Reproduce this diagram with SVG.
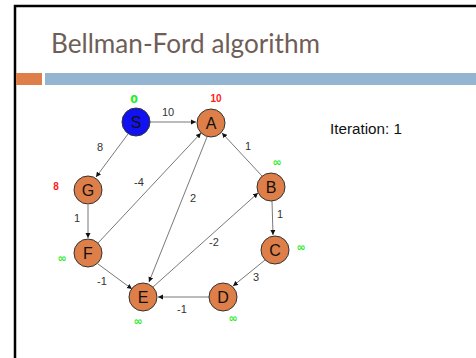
<svg xmlns="http://www.w3.org/2000/svg" width="476" height="358" viewBox="0 0 476 358">
<defs>
<marker id="ah" markerWidth="6" markerHeight="6" refX="5" refY="3" orient="auto" markerUnits="userSpaceOnUse">
<path d="M0,0.5 L5,3 L0,5.5 Z" fill="#111"/>
</marker>
<style>
.node{fill:#DE7E48;stroke:#333;stroke-width:1}
.src{fill:#1212F0;stroke:#333;stroke-width:1}
.nl{font-family:"Liberation Sans",Arial,sans-serif;font-size:16px;fill:#111;text-anchor:middle;dominant-baseline:central}
.el{font-family:"Liberation Sans",Arial,sans-serif;font-size:11px;fill:#333;text-anchor:middle;dominant-baseline:central}
.dr{font-family:"Liberation Sans",Arial,sans-serif;font-size:10px;font-weight:bold;fill:#FF2020;text-anchor:middle;dominant-baseline:central}
.dg{font-family:"DejaVu Sans",sans-serif;font-size:11px;font-weight:bold;fill:#22EE22;text-anchor:middle;dominant-baseline:central}
.e{stroke:#555;stroke-width:0.8;fill:none;marker-end:url(#ah)}
</style>
</defs>
<rect width="476" height="358" fill="#fff"/>
<path d="M15,358 V6 H476" fill="none" stroke="#000" stroke-width="2.5"/>
<rect x="16" y="73" width="26" height="12" fill="#DE7E48"/>
<rect x="45" y="73" width="431" height="12" fill="#94B5D2"/>
<text x="51" y="53" font-family="Lato,'Open Sans',sans-serif" font-size="26" fill="#6E5E57" textLength="269" lengthAdjust="spacingAndGlyphs">Bellman-Ford algorithm</text>
<text x="330" y="134" font-family="'Liberation Sans',Arial,sans-serif" font-size="14" fill="#111" textLength="72" lengthAdjust="spacingAndGlyphs">Iteration: 1</text>
<g id="edges">
<line class="e" x1="150" y1="122" x2="196" y2="122"/>
<line class="e" x1="128" y1="134" x2="96" y2="177"/>
<line class="e" x1="88" y1="205" x2="88" y2="238"/>
<line class="e" x1="98" y1="243" x2="201" y2="133"/>
<line class="e" x1="207" y1="137" x2="149" y2="282"/>
<line class="e" x1="262" y1="176" x2="222" y2="133"/>
<line class="e" x1="272" y1="201" x2="273" y2="235"/>
<line class="e" x1="265" y1="260" x2="233" y2="286"/>
<line class="e" x1="209" y1="297" x2="158" y2="297"/>
<line class="e" x1="153" y1="287" x2="258" y2="193"/>
<line class="e" x1="98" y1="264" x2="132" y2="289"/>
<text class="el" x="168" y="112">10</text>
<text class="el" x="100" y="147">8</text>
<text class="el" x="139" y="182">-4</text>
<text class="el" x="193" y="198">2</text>
<text class="el" x="248" y="146">1</text>
<text class="el" x="280" y="214">1</text>
<text class="el" x="77" y="218">1</text>
<text class="el" x="214" y="242">-2</text>
<text class="el" x="102" y="281">-1</text>
<text class="el" x="182" y="309">-1</text>
<text class="el" x="256" y="277">3</text>
</g>
<g id="S"><circle class="src" cx="136" cy="122" r="14"/><text class="nl" x="136" y="122">S</text><text class="dg" x="134" y="99">0</text></g>
<g id="A"><circle class="node" cx="211" cy="123" r="14"/><text class="nl" x="211" y="123">A</text><text class="dr" x="216" y="98">10</text></g>
<g id="G"><circle class="node" cx="88" cy="190" r="14"/><text class="nl" x="88" y="190">G</text><text class="dr" x="56" y="186">8</text></g>
<g id="F"><circle class="node" cx="88" cy="253" r="14"/><text class="nl" x="88" y="253">F</text><text class="dg" x="62" y="258">∞</text></g>
<g id="E"><circle class="node" cx="143" cy="297" r="14"/><text class="nl" x="143" y="297">E</text><text class="dg" x="138" y="321">∞</text></g>
<g id="D"><circle class="node" cx="223" cy="297" r="14"/><text class="nl" x="223" y="297">D</text><text class="dg" x="233" y="318">∞</text></g>
<g id="C"><circle class="node" cx="275" cy="250" r="14"/><text class="nl" x="275" y="250" font-family="'Liberation Serif','Times New Roman',serif">C</text><text class="dg" x="301" y="247">∞</text></g>
<g id="B"><circle class="node" cx="271" cy="187" r="14"/><text class="nl" x="271" y="187">B</text><text class="dg" x="277" y="162">∞</text></g>
</svg>
